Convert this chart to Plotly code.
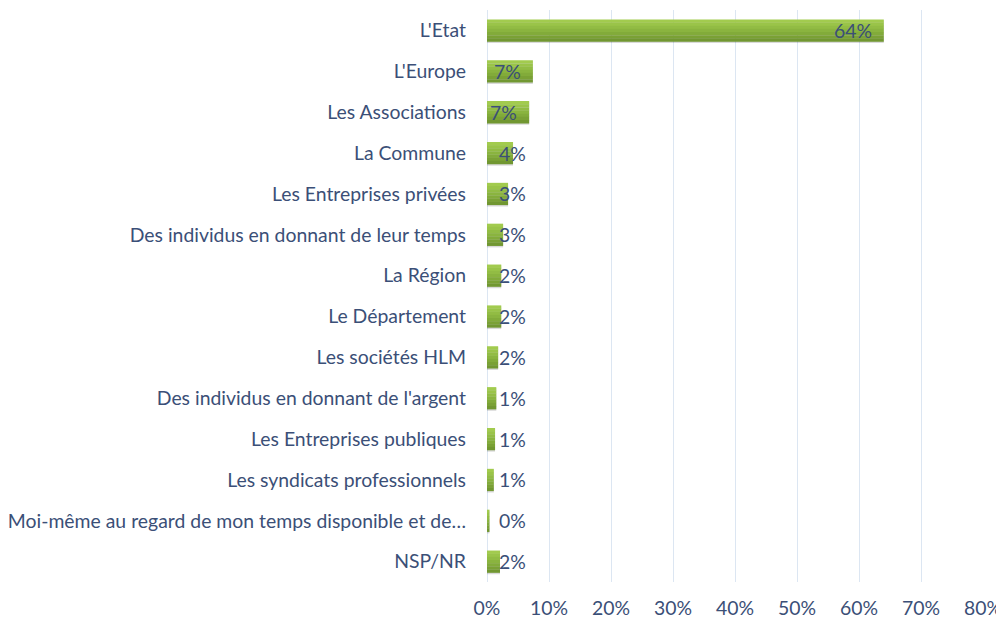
import plotly.graph_objects as go

categories = [
    "L'Etat", "L'Europe", "Les Associations", "La Commune", "Les Entreprises privées",
    "Des individus en donnant de leur temps", "La Région", "Le Département",
    "Les sociétés HLM", "Des individus en donnant de l'argent", "Les Entreprises publiques",
    "Les syndicats professionnels", "Moi-même au regard de mon temps disponible et de…",
    "NSP/NR",
]
values = [64.0, 7.4, 6.8, 4.2, 3.4, 2.6, 2.3, 2.3, 1.8, 1.5, 1.3, 1.1, 0.4, 2.1]
value_labels = ["64%", "7%", "7%", "4%", "3%", "3%", "2%", "2%", "2%", "1%", "1%", "1%", "0%", "2%"]
x_ticks = [0, 10, 20, 30, 40, 50, 60, 70, 80]
x_tick_labels = ["0%", "10%", "20%", "30%", "40%", "50%", "60%", "70%", "80%"]

text_color = "#3B4F77"
font_family = "Lato, 'Open Sans', sans-serif"
fs = 19.4

# vertical gradient of the bars, from top to bottom
gradient = ["#A2CB4E", "#9AC449", "#92BC44", "#8AB43F", "#82AB3A", "#7AA135", "#719731"]

fig = go.Figure()
# shadow bar
fig.add_trace(go.Bar(
    y=categories, x=values, orientation="h",
    marker=dict(color="rgba(0,0,0,0.15)", line=dict(width=0)),
    width=0.56, offset=-0.25, hoverinfo="skip", showlegend=False,
))
band = 0.54 / len(gradient)
for i, col in enumerate(gradient):
    fig.add_trace(go.Bar(
        y=categories, x=values, orientation="h",
        marker=dict(color=col, line=dict(width=0)),
        width=band + 0.005, offset=-0.27 + i * band,
        hoverinfo="skip" if i else None, showlegend=False,
    ))
fig.update_layout(barmode="overlay")

annotations = []
for cat, v, lab in zip(categories, values, value_labels):
    if v >= 6:
        annotations.append(dict(x=v, y=cat, text=lab, xanchor="right", xshift=-10,
                                showarrow=False, font=dict(size=fs, color=text_color, family=font_family)))
    else:
        annotations.append(dict(x=0, y=cat, text=lab, xanchor="left", xshift=10,
                                showarrow=False, font=dict(size=fs, color=text_color, family=font_family)))

# The page body has an 8px default margin; size the figure to fit the window.
fig.update_layout(
    width=996, height=611,
    margin=dict(l=479, r=21, t=2, b=37, autoexpand=False),
    paper_bgcolor="white", plot_bgcolor="white",
    font=dict(family=font_family, size=fs, color=text_color),
    annotations=annotations,
    xaxis=dict(
        range=[0, 80], tickvals=x_ticks, ticktext=x_tick_labels,
        showgrid=True, gridcolor="#DCE6F2", gridwidth=1,
        zeroline=True, zerolinecolor="#DCE6F2", zerolinewidth=1,
        showline=False, ticks="", ticklabelstandoff=13,
        tickfont=dict(size=fs, color=text_color),
        fixedrange=True, automargin=False,
    ),
    yaxis=dict(
        categoryorder="array", categoryarray=categories, autorange="reversed",
        showgrid=False, zeroline=False, showline=False, ticks="",
        ticklabelstandoff=20, automargin=False,
        tickfont=dict(size=fs, color=text_color),
        range=[13.5, -0.5],
    ),
)

fig.write_html("out.html")
